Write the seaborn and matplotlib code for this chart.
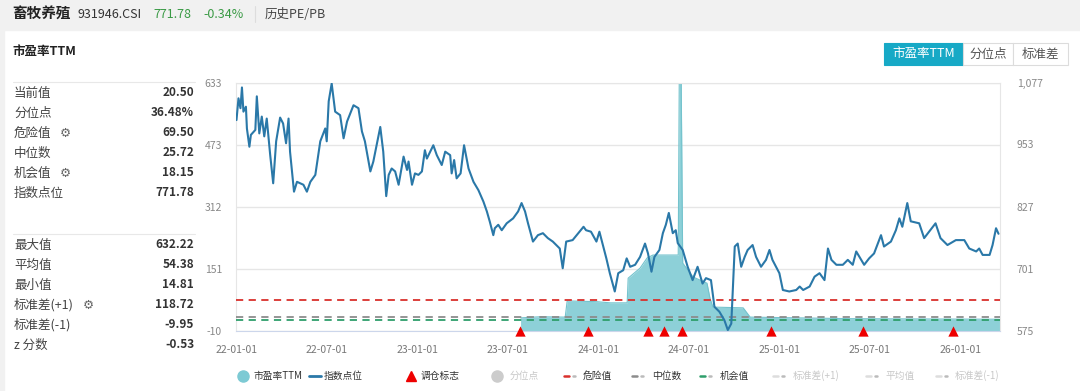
import numpy as np
import pandas as pd
import seaborn as sns
import matplotlib.pyplot as plt
import matplotlib.dates as mdates
from matplotlib.patches import Rectangle
from matplotlib.lines import Line2D

# index level (right axis)
index_dates = ['2022-01-01', '2022-01-05', '2022-01-09', '2022-01-12', '2022-01-15', '2022-01-20',
               '2022-01-22', '2022-01-27', '2022-01-30', '2022-02-08', '2022-02-11', '2022-02-16',
               '2022-02-21', '2022-02-26', '2022-03-03', '2022-03-10', '2022-03-16', '2022-03-22',
               '2022-03-30', '2022-04-05', '2022-04-11', '2022-04-16', '2022-04-19', '2022-04-27',
               '2022-05-03', '2022-05-16', '2022-05-23', '2022-05-30', '2022-06-09', '2022-06-19',
               '2022-06-29', '2022-07-02', '2022-07-06', '2022-07-12', '2022-07-19', '2022-07-29',
               '2022-08-05', '2022-08-12', '2022-08-25', '2022-09-04', '2022-09-11', '2022-09-17',
               '2022-09-28', '2022-10-04', '2022-10-18', '2022-10-24', '2022-10-30', '2022-11-04',
               '2022-11-10', '2022-11-17', '2022-11-24', '2022-12-04', '2022-12-11', '2022-12-14',
               '2022-12-21', '2022-12-27', '2023-01-03', '2023-01-10', '2023-01-16', '2023-01-20',
               '2023-02-02', '2023-02-09', '2023-02-19', '2023-02-26', '2023-03-08', '2023-03-11',
               '2023-03-16', '2023-03-21', '2023-03-29', '2023-04-05', '2023-04-14', '2023-04-24',
               '2023-05-04', '2023-05-14', '2023-05-21', '2023-05-27', '2023-06-03', '2023-06-06',
               '2023-06-13', '2023-06-20', '2023-06-30', '2023-07-13', '2023-07-23', '2023-07-30',
               '2023-08-06', '2023-08-12', '2023-08-22', '2023-09-01', '2023-09-11', '2023-09-21',
               '2023-10-01', '2023-10-15', '2023-10-21', '2023-10-28', '2023-11-10', '2023-11-24',
               '2023-12-02', '2023-12-07', '2023-12-17', '2023-12-28', '2024-01-03', '2024-01-10',
               '2024-01-17', '2024-01-24', '2024-02-03', '2024-02-10', '2024-02-20', '2024-02-27',
               '2024-03-05', '2024-03-15', '2024-03-25', '2024-04-04', '2024-04-10', '2024-04-17',
               '2024-04-23', '2024-05-03', '2024-05-10', '2024-05-16', '2024-05-22', '2024-05-30',
               '2024-06-05', '2024-06-09', '2024-06-19', '2024-06-29', '2024-07-09', '2024-07-19',
               '2024-07-29', '2024-08-05', '2024-08-15', '2024-08-22', '2024-09-01', '2024-09-11',
               '2024-09-18', '2024-09-25', '2024-10-02', '2024-10-08', '2024-10-15', '2024-10-22',
               '2024-10-28', '2024-11-07', '2024-11-14', '2024-11-24', '2024-12-04', '2024-12-11',
               '2024-12-17', '2024-12-31', '2025-01-07', '2025-01-20', '2025-02-03', '2025-02-10',
               '2025-02-17', '2025-03-02', '2025-03-12', '2025-03-22', '2025-04-01', '2025-04-08',
               '2025-04-15', '2025-04-25', '2025-05-08', '2025-05-18', '2025-05-28', '2025-06-04',
               '2025-06-14', '2025-06-20', '2025-06-30', '2025-07-10', '2025-07-24', '2025-07-30',
               '2025-08-13', '2025-08-23', '2025-08-30', '2025-09-05', '2025-09-15', '2025-09-22',
               '2025-10-09', '2025-10-19', '2025-10-29', '2025-11-11', '2025-11-21', '2025-12-05',
               '2025-12-22', '2026-01-08', '2026-01-18', '2026-02-01', '2026-02-07', '2026-02-14',
               '2026-02-28', '2026-03-06', '2026-03-13', '2026-03-18']
index_values = [1002, 1046, 1026, 1068, 1019, 1029, 985, 948, 972, 982, 1050, 975,
                1009, 969, 1005, 931, 874, 959, 1007, 995, 955, 1005, 938, 857,
                877, 871, 857, 877, 891, 959, 985, 959, 1040, 1076, 1019, 1012,
                965, 999, 1032, 1026, 979, 959, 898, 918, 988, 938, 848, 891,
                904, 898, 871, 928, 901, 918, 871, 894, 891, 898, 941, 924,
                951, 931, 911, 938, 931, 894, 921, 884, 894, 951, 904, 877,
                860, 837, 817, 796, 769, 783, 790, 779, 793, 803, 817, 834,
                817, 793, 756, 769, 773, 763, 756, 742, 702, 756, 759, 776,
                786, 779, 776, 756, 776, 749, 722, 692, 655, 692, 698, 722,
                705, 709, 725, 752, 732, 695, 725, 739, 773, 790, 814, 773,
                779, 753, 739, 705, 678, 705, 671, 682, 678, 624, 614, 597,
                577, 590, 746, 752, 705, 725, 739, 749, 725, 705, 719, 739,
                719, 692, 658, 655, 658, 665, 658, 665, 685, 692, 678, 742,
                719, 709, 709, 719, 709, 736, 719, 709, 722, 732, 769, 746,
                756, 779, 803, 786, 834, 797, 793, 763, 776, 793, 763, 749,
                759, 759, 742, 736, 742, 729, 729, 749, 783, 771.78]

# PE TTM (left axis)
pe_dates = ['2023-07-28', '2023-09-06', '2023-10-26', '2023-10-30', '2023-12-29', '2024-01-25',
            '2024-02-28', '2024-03-01', '2024-03-25', '2024-04-08', '2024-04-20', '2024-06-10',
            '2024-06-12', '2024-06-16', '2024-06-19', '2024-07-10', '2024-08-07', '2024-08-13',
            '2024-08-19', '2024-10-19', '2024-11-02', '2025-05-22', '2026-03-20']
pe_values = [24, 27, 26, 68, 66, 63, 63, 127, 153, 179, 187, 187,
             632.22, 632.22, 166, 130, 114, 75, 52, 50, 26, 22, 20.5]

signal_dates = ['2023-07-27', '2023-12-10', '2024-04-11', '2024-05-13', '2024-06-17',
                '2024-12-15', '2025-06-17', '2025-12-16']

danger_val = 69.50
median_val = 25.72
chance_val = 18.15

left_ticks = [-10, 151, 312, 473, 633]
right_ticks = [575, 701, 827, 953, 1077]

stat_top = ['当前值', '分位点', '危险值', '中位数', '机会值', '指数点位']
stat_top_vals = ['20.50', '36.48%', '69.50', '25.72', '18.15', '771.78']
stat_bot = ['最大值', '平均值', '最小值', '标准差(+1)', '标准差(-1)', 'z 分数']
stat_bot_vals = ['632.22', '54.38', '14.81', '118.72', '-9.95', '-0.53']

sns.set_style('white')
plt.rcParams['font.family'] = ['Noto Sans CJK SC', 'DejaVu Sans']
plt.rcParams['axes.unicode_minus'] = False

W, H = 1080, 391
fig = plt.figure(figsize=(10.8, 3.91), dpi=100)


def fx(x):
    return x / W


def fy(y):
    return 1 - y / H


# header bar and background
fig.patches.append(Rectangle((0, fy(30)), 1, 30 / H, transform=fig.transFigure,
                             color='#f1f1f1', zorder=0))
fig.patches.append(Rectangle((0, 0), 4 / W, 1, transform=fig.transFigure,
                             color='#f1f1f1', zorder=0))
fig.text(fx(12), fy(14), '畜牧养殖', size=10.5, weight='bold', color='#222', va='center')
fig.text(fx(77), fy(14), '931946.CSI', size=9, color='#333', va='center')
fig.text(fx(153), fy(14), '771.78', size=9, color='#3a9a45', va='center')
fig.text(fx(203), fy(14), '-0.34%', size=9, color='#3a9a45', va='center')
fig.add_artist(Line2D([fx(255), fx(255)], [fy(6), fy(22)], color='#dddddd', lw=0.8))
fig.text(fx(265), fy(14), '历史PE/PB', size=9, color='#444', va='center')

fig.text(fx(12), fy(52), '市盈率TTM', size=9, weight='bold', color='#222', va='center')

# stats panel
fig.add_artist(Line2D([fx(13), fx(195)], [fy(82), fy(82)], color='#e8e8e8', lw=0.8))
fig.add_artist(Line2D([fx(13), fx(195)], [fy(234), fy(234)], color='#e8e8e8', lw=0.8))
gear_rows = {'危险值': 60, '机会值': 60, '标准差(+1)': 83}
for i, (lab, val) in enumerate(zip(stat_top, stat_top_vals)):
    y = 93 + i * 20
    fig.text(fx(14), fy(y), lab, size=9, color='#444', va='center')
    fig.text(fx(194), fy(y), val, size=8.5, weight='bold', color='#333', va='center', ha='right')
    if lab in gear_rows:
        fig.text(fx(gear_rows[lab]), fy(y), '⚙', size=9, color='#666', va='center',
                 family=['DejaVu Sans'])
for i, (lab, val) in enumerate(zip(stat_bot, stat_bot_vals)):
    y = 245 + i * 20
    fig.text(fx(14), fy(y), lab, size=9, color='#444', va='center')
    fig.text(fx(194), fy(y), val, size=8.5, weight='bold', color='#333', va='center', ha='right')
    if lab in gear_rows:
        fig.text(fx(gear_rows[lab]), fy(y), '⚙', size=9, color='#666', va='center',
                 family=['DejaVu Sans'])

# buttons
btns = [('市盈率TTM', 884, 963, True), ('分位点', 963, 1013, False), ('标准差', 1013, 1068, False)]
for lab, x0, x1, active in btns:
    fig.patches.append(Rectangle((fx(x0), fy(65)), (x1 - x0) / W, 22 / H,
                                 transform=fig.transFigure,
                                 facecolor='#17a9c6' if active else 'white',
                                 edgecolor='#17a9c6' if active else '#dcdcdc', lw=0.8))
    fig.text(fx((x0 + x1) / 2), fy(54), lab, size=9, ha='center', va='center',
             color='white' if active else '#555')

# main chart
ax = fig.add_axes([fx(236), fy(331), (1000 - 236) / W, (331 - 83) / H])
pe = pd.DataFrame({'date': pd.to_datetime(pe_dates), 'pe': pe_values})
idx = pd.DataFrame({'date': pd.to_datetime(index_dates), 'idx': index_values})
sig = pd.DataFrame({'date': pd.to_datetime(signal_dates), 'y': [-10] * len(signal_dates)})

ax.fill_between(pe['date'], -10, pe['pe'], color='#8dd0d8', lw=0, zorder=1)
sns.lineplot(data=pe, x='date', y='pe', ax=ax, color='#74c3cd', lw=0.8, zorder=2)

ax.axhline(danger_val, color='#d9302c', lw=1.3, dashes=(4, 3), zorder=3)
ax.axhline(median_val, color='#8c8c8c', lw=1.3, dashes=(4, 3), zorder=3)
ax.axhline(chance_val, color='#2e9e6b', lw=1.3, dashes=(4, 3), zorder=3)

sns.scatterplot(data=sig, x='date', y='y', ax=ax, marker='^', color='#ee0000', s=55,
                linewidth=0, clip_on=False, zorder=6)

ax.set_ylim(-10, 633)
ax.set_yticks(left_ticks)
ax.set_yticklabels([str(v) for v in left_ticks])
ax.set_xlim(pd.Timestamp('2021-12-31'), pd.Timestamp('2026-03-21'))
ax.xaxis.set_major_locator(mdates.MonthLocator(bymonth=[1, 7], bymonthday=1))
ax.xaxis.set_major_formatter(mdates.DateFormatter('%y-%m-%d'))
ax.set_xlabel('')
ax.set_ylabel('')
ax.grid(axis='y', color='#e6e6e6', lw=1)
ax.grid(axis='x', visible=False)
ax.tick_params(axis='y', length=0, pad=10, labelsize=7.5, labelcolor='#888')
ax.tick_params(axis='x', length=6, width=0.8, color='#ccd6eb', pad=4, labelsize=7.5,
               labelcolor='#777')
for side in ['left', 'right', 'top']:
    ax.spines[side].set_color('#e6e6e6')
ax.spines['bottom'].set_color('#ccd6eb')

ax2 = ax.twinx()
sns.lineplot(data=idx, x='date', y='idx', ax=ax2, color='#2a78a8', lw=1.5)
ax2.set_ylim(575, 1077)
ax2.set_yticks(right_ticks)
ax2.set_yticklabels([f'{v:,}' for v in right_ticks])
ax2.set_ylabel('')
ax2.grid(False)
ax2.tick_params(axis='y', length=0, pad=12, labelsize=7.5, labelcolor='#888')
for side in ['left', 'right', 'top', 'bottom']:
    ax2.spines[side].set_visible(False)

# legend row
ly = fy(376)
legend_items = [
    ('circle', '#7dcad4', '市盈率TTM', 243, 253, True),
    ('line', '#2a78a8', '指数点位', 315, 324, True),
    ('tri', '#ee0000', '调仓标志', 411, 421, True),
    ('circle', '#cccccc', '分位点', 497, 510, False),
    ('dash', '#d9302c', '危险值', 571, 583, True),
    ('dash', '#8c8c8c', '中位数', 639, 652, True),
    ('dash', '#2e9e6b', '机会值', 707, 720, True),
    ('dash', '#dddddd', '标准差(+1)', 780, 793, False),
    ('dash', '#dddddd', '平均值', 873, 885, False),
    ('dash', '#dddddd', '标准差(-1)', 943, 955, False),
]
for kind, col, lab, xm, xt, on in legend_items:
    if kind == 'circle':
        fig.add_artist(Line2D([fx(xm)], [ly], marker='o', ms=8, color=col, lw=0))
    elif kind == 'tri':
        fig.add_artist(Line2D([fx(xm)], [ly], marker='^', ms=7, color=col, lw=0))
    elif kind == 'line':
        fig.add_artist(Line2D([fx(xm - 6), fx(xm + 6)], [ly, ly], color=col, lw=2))
    else:
        fig.add_artist(Line2D([fx(xm - 7), fx(xm - 2)], [ly, ly], color=col, lw=1.8))
        fig.add_artist(Line2D([fx(xm + 2), fx(xm + 4)], [ly, ly], color='#bbbbbb', lw=1.8))
    fig.text(fx(xt), ly, lab, size=7, va='center', color='#333' if on else '#c8c8c8')

fig.savefig('out.png', dpi=100, facecolor='white')
